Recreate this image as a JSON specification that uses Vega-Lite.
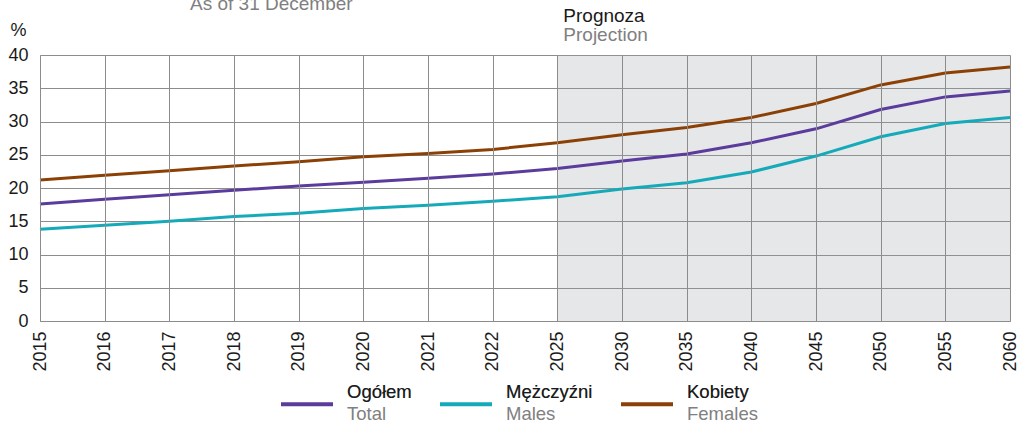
{
  "$schema": "https://vega.github.io/schema/vega-lite/v6.json",
  "width": 970,
  "height": 266,
  "autosize": {"type": "none"},
  "padding": {"left": 40, "top": 55, "right": 9, "bottom": 101},
  "background": "white",
  "config": {
    "view": {"stroke": null},
    "font": "Liberation Sans",
    "axis": {"grid": true, "gridColor": "#8c8c8c", "gridOpacity": 1, "domainColor": "#8c8c8c", "ticks": false, "labelFontSize": 18, "labelColor": "#1a1a1a", "labelFont": "Liberation Sans", "labelOverlap": false},
    "axisX": {"labelAngle": -90, "labelAlign": "right", "labelBaseline": "middle", "labelPadding": 10},
    "axisY": {"labelPadding": 12}
  },
  "title": {"text": "As of 31 December", "orient": "top", "anchor": "start", "frame": "group", "dx": 150, "offset": -22, "baseline": "alphabetic", "fontSize": 19, "fontWeight": "normal", "color": "#7f7f7f", "font": "Liberation Sans"},
  "datasets": {
    "shares": [
      {"year": "2015", "pl": "Ogółem", "en": "Total", "value": 17.6},
      {"year": "2016", "pl": "Ogółem", "en": "Total", "value": 18.3},
      {"year": "2017", "pl": "Ogółem", "en": "Total", "value": 19.0},
      {"year": "2018", "pl": "Ogółem", "en": "Total", "value": 19.65},
      {"year": "2019", "pl": "Ogółem", "en": "Total", "value": 20.3},
      {"year": "2020", "pl": "Ogółem", "en": "Total", "value": 20.85},
      {"year": "2021", "pl": "Ogółem", "en": "Total", "value": 21.45},
      {"year": "2022", "pl": "Ogółem", "en": "Total", "value": 22.1},
      {"year": "2025", "pl": "Ogółem", "en": "Total", "value": 22.95},
      {"year": "2030", "pl": "Ogółem", "en": "Total", "value": 24.05},
      {"year": "2035", "pl": "Ogółem", "en": "Total", "value": 25.1},
      {"year": "2040", "pl": "Ogółem", "en": "Total", "value": 26.8},
      {"year": "2045", "pl": "Ogółem", "en": "Total", "value": 28.9},
      {"year": "2050", "pl": "Ogółem", "en": "Total", "value": 31.8},
      {"year": "2055", "pl": "Ogółem", "en": "Total", "value": 33.7},
      {"year": "2060", "pl": "Ogółem", "en": "Total", "value": 34.6},
      {"year": "2015", "pl": "Mężczyźni", "en": "Males", "value": 13.8},
      {"year": "2016", "pl": "Mężczyźni", "en": "Males", "value": 14.4},
      {"year": "2017", "pl": "Mężczyźni", "en": "Males", "value": 15.0},
      {"year": "2018", "pl": "Mężczyźni", "en": "Males", "value": 15.7},
      {"year": "2019", "pl": "Mężczyźni", "en": "Males", "value": 16.2},
      {"year": "2020", "pl": "Mężczyźni", "en": "Males", "value": 16.9},
      {"year": "2021", "pl": "Mężczyźni", "en": "Males", "value": 17.4},
      {"year": "2022", "pl": "Mężczyźni", "en": "Males", "value": 18.0},
      {"year": "2025", "pl": "Mężczyźni", "en": "Males", "value": 18.7},
      {"year": "2030", "pl": "Mężczyźni", "en": "Males", "value": 19.85},
      {"year": "2035", "pl": "Mężczyźni", "en": "Males", "value": 20.8},
      {"year": "2040", "pl": "Mężczyźni", "en": "Males", "value": 22.4},
      {"year": "2045", "pl": "Mężczyźni", "en": "Males", "value": 24.8},
      {"year": "2050", "pl": "Mężczyźni", "en": "Males", "value": 27.7},
      {"year": "2055", "pl": "Mężczyźni", "en": "Males", "value": 29.7},
      {"year": "2060", "pl": "Mężczyźni", "en": "Males", "value": 30.6},
      {"year": "2015", "pl": "Kobiety", "en": "Females", "value": 21.2},
      {"year": "2016", "pl": "Kobiety", "en": "Females", "value": 21.9},
      {"year": "2017", "pl": "Kobiety", "en": "Females", "value": 22.6},
      {"year": "2018", "pl": "Kobiety", "en": "Females", "value": 23.3},
      {"year": "2019", "pl": "Kobiety", "en": "Females", "value": 23.96},
      {"year": "2020", "pl": "Kobiety", "en": "Females", "value": 24.7},
      {"year": "2021", "pl": "Kobiety", "en": "Females", "value": 25.2},
      {"year": "2022", "pl": "Kobiety", "en": "Females", "value": 25.8},
      {"year": "2025", "pl": "Kobiety", "en": "Females", "value": 26.8},
      {"year": "2030", "pl": "Kobiety", "en": "Females", "value": 28.0},
      {"year": "2035", "pl": "Kobiety", "en": "Females", "value": 29.1},
      {"year": "2040", "pl": "Kobiety", "en": "Females", "value": 30.6},
      {"year": "2045", "pl": "Kobiety", "en": "Females", "value": 32.7},
      {"year": "2050", "pl": "Kobiety", "en": "Females", "value": 35.5},
      {"year": "2055", "pl": "Kobiety", "en": "Females", "value": 37.3},
      {"year": "2060", "pl": "Kobiety", "en": "Females", "value": 38.2}
    ]
  },
  "layer": [
    {
      "data": {"values": [{"period": "Prognoza"}]},
      "mark": {"type": "rect", "fill": "#9b9fa7", "opacity": 0.25},
      "encoding": {
        "x": {"datum": "2025", "type": "nominal", "axis": {"title": null}},
        "x2": {"datum": "2060"},
        "y": {"datum": 0, "type": "quantitative", "axis": {"values": [0, 5, 10, 15, 20, 25, 30, 35, 40], "title": "%", "titleAngle": 0, "titleX": -30, "titleY": -20, "titleAlign": "left", "titleBaseline": "alphabetic", "titleFontWeight": "normal", "titleFontSize": 18, "titleColor": "#1a1a1a", "titleFont": "Liberation Sans"}},
        "y2": {"datum": 40}
      }
    },
    {
      "data": {"name": "shares"},
      "mark": {"type": "line", "strokeWidth": 3},
      "encoding": {
        "x": {
          "field": "year",
          "type": "nominal",
          "scale": {"type": "point", "padding": 0, "domain": ["2015", "2016", "2017", "2018", "2019", "2020", "2021", "2022", "2025", "2030", "2035", "2040", "2045", "2050", "2055", "2060"]},
          "axis": {"title": null}
        },
        "y": {
          "field": "value",
          "type": "quantitative",
          "scale": {"domain": [0, 40], "nice": false, "zero": true},
          "axis": {"values": [0, 5, 10, 15, 20, 25, 30, 35, 40], "title": "%", "titleAngle": 0, "titleX": -30, "titleY": -20, "titleAlign": "left", "titleBaseline": "alphabetic", "titleFontWeight": "normal", "titleFontSize": 18, "titleColor": "#1a1a1a", "titleFont": "Liberation Sans"}
        },
        "color": {
          "field": "pl",
          "type": "nominal",
          "scale": {"domain": ["Ogółem", "Mężczyźni", "Kobiety"], "range": ["#5b3b9c", "#15aab9", "#8b4106"]},
          "legend": {"orient": "none", "legendX": 239, "legendY": 321, "direction": "horizontal", "title": null, "symbolType": "stroke", "symbolSize": 2704, "symbolStrokeWidth": 4, "labelOffset": 12, "columnPadding": 20, "padding": 0, "labelFontSize": 18.5, "labelFont": "Liberation Sans", "labelColor": "#808080", "labelBaseline": "alphabetic", "labelExpr": "[datum.label, datum.label == 'Ogółem' ? 'Total' : datum.label == 'Mężczyźni' ? 'Males' : 'Females']", "encode": {"labels": {"update": {"lineHeight": {"value": 22}, "dy": {"value": -6}}}}}
        },
        "opacity": {
          "field": "en",
          "type": "ordinal",
          "scale": {"domain": ["Total", "Males", "Females"], "range": [1, 1, 1]},
          "legend": {"orient": "none", "legendX": 239, "legendY": 321, "direction": "horizontal", "title": null, "symbolType": "stroke", "symbolSize": 2704, "symbolStrokeWidth": 4, "symbolOpacity": 0, "labelOffset": 12, "columnPadding": 26, "padding": 0, "labelFontSize": 18.5, "labelFont": "Liberation Sans", "labelColor": "#1a1a1a", "labelBaseline": "alphabetic", "labelExpr": "[datum.label == 'Total' ? 'Ogółem' : datum.label == 'Males' ? 'Mężczyźni' : 'Kobiety', ' ']", "encode": {"labels": {"update": {"lineHeight": {"value": 22}, "dy": {"value": -6}}}, "symbols": {"update": {"opacity": {"value": 0}, "strokeOpacity": {"value": 0}}}}}
        }
      }
    },
    {
      "data": {"values": [{"t": "Prognoza"}]},
      "mark": {"type": "text", "align": "left", "baseline": "alphabetic", "dx": 6, "dy": -33, "fontSize": 19, "color": "#1a1a1a", "font": "Liberation Sans"},
      "encoding": {
        "x": {"datum": "2025", "type": "nominal", "axis": {"title": null}},
        "y": {"datum": 40, "type": "quantitative", "axis": {"values": [0, 5, 10, 15, 20, 25, 30, 35, 40], "title": "%", "titleAngle": 0, "titleX": -30, "titleY": -20, "titleAlign": "left", "titleBaseline": "alphabetic", "titleFontWeight": "normal", "titleFontSize": 18, "titleColor": "#1a1a1a", "titleFont": "Liberation Sans"}},
        "text": {"field": "t"}
      }
    },
    {
      "data": {"values": [{"t": "Projection"}]},
      "mark": {"type": "text", "align": "left", "baseline": "alphabetic", "dx": 6, "dy": -14, "fontSize": 19, "color": "#808080", "font": "Liberation Sans"},
      "encoding": {
        "x": {"datum": "2025", "type": "nominal", "axis": {"title": null}},
        "y": {"datum": 40, "type": "quantitative", "axis": {"values": [0, 5, 10, 15, 20, 25, 30, 35, 40], "title": "%", "titleAngle": 0, "titleX": -30, "titleY": -20, "titleAlign": "left", "titleBaseline": "alphabetic", "titleFontWeight": "normal", "titleFontSize": 18, "titleColor": "#1a1a1a", "titleFont": "Liberation Sans"}},
        "text": {"field": "t"}
      }
    }
  ]
}
